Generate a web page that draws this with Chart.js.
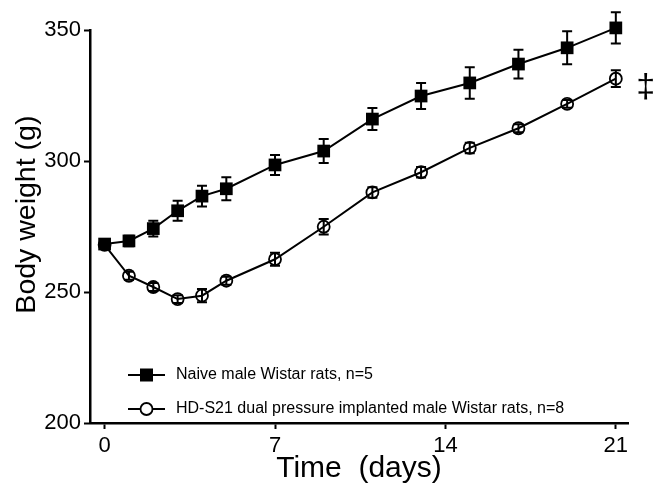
<!DOCTYPE html>
<html>
<head>
<meta charset="utf-8">
<title>Body weight</title>
<script src="https://cdn.jsdelivr.net/npm/chart.js@4.4.0/dist/chart.umd.min.js"></script>
<style>
  html, body { margin: 0; padding: 0; background: #fff; }
  #wrap { width: 656px; height: 494px; }
</style>
</head>
<body>
<div id="wrap"><canvas id="weightChart" width="656" height="494"></canvas></div>
<script>
// Data
const days = [0, 1, 2, 3, 4, 5, 7, 9, 11, 13, 15, 17, 19, 21];
const naiveMean = [268.3, 269.5, 274.2, 281.0, 286.6, 289.4, 298.5, 303.8, 316.0, 324.8, 329.8, 337.0, 343.2, 350.8];
const naiveErr = [1.5, 2.0, 3.0, 3.8, 4.0, 4.4, 3.8, 4.6, 4.2, 5.0, 6.0, 5.5, 6.3, 6.0];
const implantMean = [268.0, 256.2, 251.9, 247.3, 248.6, 254.3, 262.5, 274.9, 288.0, 295.7, 305.0, 312.5, 321.8, 331.4];
const implantErr = [1.5, 1.5, 1.5, 1.5, 2.5, 1.5, 2.5, 3.0, 2.0, 2.0, 2.0, 1.5, 1.5, 3.2];
const seriesLabels = ['Naive male Wistar rats, n=5', 'HD-S21 dual pressure implanted male Wistar rats, n=8'];
const xTicks = [0, 7, 14, 21];
const yTicks = [200, 250, 300, 350];

const FONT = '"Liberation Sans", Arial, Helvetica, sans-serif';

// Vertical error bars with caps, drawn through the scales
const errorBars = {
    id: 'errorBars',
    afterDatasetsDraw(chart) {
        const yScale = chart.scales.y;
        const ctx = chart.ctx;
        chart.data.datasets.forEach((ds, i) => {
            const meta = chart.getDatasetMeta(i);
            ctx.save();
            ctx.strokeStyle = '#000';
            ctx.lineWidth = 2;
            meta.data.forEach((pt, j) => {
                const m = ds.data[j].y;
                const e = ds.errors[j];
                const top = yScale.getPixelForValue(m + e);
                const bot = yScale.getPixelForValue(m - e);
                ctx.beginPath();
                ctx.moveTo(pt.x, top);
                ctx.lineTo(pt.x, bot);
                ctx.moveTo(pt.x - 5, top);
                ctx.lineTo(pt.x + 5, top);
                ctx.moveTo(pt.x - 5, bot);
                ctx.lineTo(pt.x + 5, bot);
                ctx.stroke();
            });
            ctx.restore();
        });
    }
};

// Legend inside the plot area, bottom left
const innerLegend = {
    id: 'innerLegend',
    afterDraw(chart) {
        const ctx = chart.ctx;
        const area = chart.chartArea;
        const rows = [area.bottom - 48, area.bottom - 14];
        ctx.save();
        chart.data.datasets.forEach((ds, i) => {
            const y = rows[i];
            const x0 = area.left + 38;
            const x1 = area.left + 75;
            const cx = (x0 + x1) / 2;
            ctx.strokeStyle = '#000';
            ctx.lineWidth = 2;
            ctx.beginPath();
            ctx.moveTo(x0, y);
            ctx.lineTo(x1, y);
            ctx.stroke();
            if (ds.pointStyle === 'rect') {
                ctx.fillStyle = '#000';
                ctx.fillRect(cx - 6.5, y - 6.5, 13, 13);
            } else {
                ctx.fillStyle = '#fff';
                ctx.lineWidth = 1.8;
                ctx.beginPath();
                ctx.arc(cx, y, 6, 0, Math.PI * 2);
                ctx.fill();
                ctx.stroke();
            }
            ctx.fillStyle = '#000';
            ctx.font = '16px ' + FONT;
            ctx.textBaseline = 'middle';
            ctx.textAlign = 'left';
            ctx.fillText(ds.label, area.left + 86, y);
        });
        ctx.restore();
    }
};

// Significance mark next to the last implanted point
const dagger = {
    id: 'dagger',
    afterDraw(chart) {
        const ctx = chart.ctx;
        const x = chart.scales.x.getPixelForValue(days[days.length - 1]) + 30;
        const y = chart.scales.y.getPixelForValue(implantMean[implantMean.length - 1]) + 9;
        ctx.save();
        ctx.fillStyle = '#000';
        ctx.font = '34px ' + FONT;
        ctx.textAlign = 'center';
        ctx.textBaseline = 'middle';
        ctx.fillText('\u2021', x, y);
        ctx.restore();
    }
};

const toPoints = (ys) => days.map((d, i) => ({ x: d, y: ys[i] }));

const ctx = document.getElementById('weightChart').getContext('2d');
const weightChart = new Chart(ctx, {
    type: 'line',
    data: {
        datasets: [{
            label: seriesLabels[0],
            data: toPoints(naiveMean),
            errors: naiveErr,
            borderColor: '#000',
            borderWidth: 2,
            pointStyle: 'rect',
            pointRadius: 9,
            pointBackgroundColor: '#000',
            pointBorderColor: '#000',
            pointBorderWidth: 0,
            tension: 0,
            clip: false
        }, {
            label: seriesLabels[1],
            data: toPoints(implantMean),
            errors: implantErr,
            borderColor: '#000',
            borderWidth: 2,
            pointStyle: 'circle',
            pointRadius: 6,
            pointBackgroundColor: 'rgba(0,0,0,0)',
            pointBorderColor: '#000',
            pointBorderWidth: 1.8,
            tension: 0,
            clip: false
        }]
    },
    options: {
        responsive: false,
        animation: false,
        devicePixelRatio: 1,
        events: [],
        layout: {
            padding: { top: 30, right: 28, left: 0, bottom: 0 }
        },
        scales: {
            x: {
                type: 'linear',
                min: -0.6,
                max: 21.5,
                afterBuildTicks(scale) {
                    scale.ticks = xTicks.map(v => ({ value: v }));
                },
                afterFit(scale) {
                    scale.height = 71;
                },
                grid: {
                    drawOnChartArea: false,
                    drawTicks: true,
                    tickLength: 6,
                    tickColor: '#000',
                    tickWidth: 2
                },
                border: { display: true, color: '#000', width: 2.5 },
                ticks: {
                    color: '#000',
                    font: { family: FONT, size: 22 },
                    padding: 4
                },
                title: {
                    display: true,
                    text: 'Time  (days)',
                    color: '#000',
                    font: { family: FONT, size: 30 },
                    padding: { top: 0, bottom: 7 }
                }
            },
            y: {
                type: 'linear',
                min: 200,
                max: 350,
                afterBuildTicks(scale) {
                    scale.ticks = yTicks.map(v => ({ value: v }));
                },
                afterFit(scale) {
                    scale.width = 90;
                },
                grid: {
                    drawOnChartArea: false,
                    drawTicks: true,
                    tickLength: 6,
                    tickColor: '#000',
                    tickWidth: 2
                },
                border: { display: true, color: '#000', width: 2.5 },
                ticks: {
                    color: '#000',
                    font: { family: FONT, size: 22 },
                    padding: 3
                },
                title: {
                    display: true,
                    // leading spaces nudge the rotated title up a little, as in the figure
                    text: '   Body weight (g)',
                    color: '#000',
                    font: { family: FONT, size: 28.5 },
                    padding: { top: 10, bottom: 0 }
                }
            }
        },
        plugins: {
            legend: { display: false },
            tooltip: { enabled: false }
        }
    },
    plugins: [errorBars, innerLegend, dagger]
});
</script>
</body>
</html>
